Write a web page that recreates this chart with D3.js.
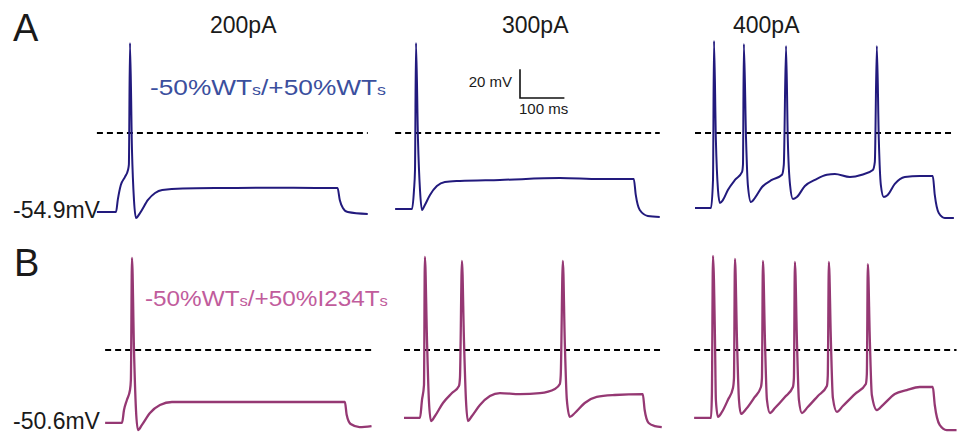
<!DOCTYPE html>
<html>
<head>
<meta charset="utf-8">
<script src="https://cdn.jsdelivr.net/npm/d3@7"></script>
<style>
  html, body { margin: 0; padding: 0; background: #fff; }
  svg { display: block; font-family: Arial, "Liberation Sans", sans-serif; }
</style>
</head>
<body>
<div id="chart"></div>
<script>
// step currents (column titles)
const currents = ["200pA", "300pA", "400pA"];
const rowLetters = ["A", "B"];
const restLabels = ["-54.9mV", "-50.6mV"];
const scaleBar = { mV: 20, ms: 100 };

// [time ms from step onset, membrane potential mV]
const traceA200 = [[-43,-54.9],[0,-54.9],[4,-46.5],[11,-36],[20,-30.6],[27,-25.7],[29,-22],[31.5,62.5],[36,-12],[40.5,-46.5],[45,-59],[54,-55.6],[72,-46.5],[88,-41.7],[104,-39.6],[150,-38.5],[250,-38.2],[350,-38],[450,-38.2],[499,-38.2],[504,-46.5],[511,-52],[522,-54.9],[567,-56.3]];
const traceA300 = [[-38,-52.8],[0,-52.8],[4.5,-39.6],[6.75,-25.7],[9,62.5],[13.5,-4.9],[18,-39.6],[22.5,-53.5],[29,-50],[40.5,-43],[56,-36.8],[74,-34],[108,-33.3],[198,-32.6],[333,-31.3],[423,-32],[499.5,-32],[504,-43],[513,-53.5],[531,-57.6],[558,-58.3]];
const traceA400 = [[-36,-52],[0,-52],[4.5,-32.6],[6.75,63.9],[11,-4.9],[15.75,-39.6],[20,-48.6],[27,-46.5],[38,-39.6],[54,-32.6],[70,-27],[72,-22],[74,61.8],[79,-4.9],[83,-36],[90,-48],[99,-45],[115,-37.5],[137,-32.6],[160,-29],[164,-22],[169,60.4],[173,-4.9],[178,-36],[184.5,-45.8],[193.5,-44.4],[211.5,-36.8],[234,-32.6],[261,-29],[279,-28.5],[313,-30.6],[340,-29],[364.5,-25.7],[369,-20],[373.5,60.4],[378,-4.9],[382.5,-36],[389,-44.4],[398,-43],[414,-35.4],[436.5,-30.6],[470,-29.9],[499.5,-29.9],[504,-43],[513,-55.6],[526.5,-59],[547,-59]];
const traceB200 = [[-38,-50.6],[0,-50.6],[4.5,-41.7],[11,-34.7],[18,-27.8],[20,-20.8],[22.5,63.9],[27,0],[31.5,-41.7],[36,-55.6],[45,-52],[63,-43.75],[85.5,-38.2],[112.5,-36.1],[288,-36.1],[400,-36.1],[502,-36.1],[506,-45],[515,-51.4],[535,-53.5],[562,-52.8]];
const traceB300 = [[-36,-47.2],[0,-47.2],[4.5,-34.7],[9,-24.3],[11,64.6],[15.75,7],[20,-34.7],[24.75,-49.3],[33.75,-45.8],[51.75,-36.8],[72,-29.9],[87.75,-25],[90,-19.4],[94.5,61.8],[99,7],[103.5,-34.7],[108,-49.3],[117,-45.8],[135,-38.2],[157.5,-32],[180,-29.9],[225,-30.6],[270,-29.9],[303.75,-27],[315,-23.6],[317,-17.4],[321.75,61.8],[326,7],[330.75,-34.7],[337.5,-46.5],[348.75,-43.75],[371,-36.8],[398,-32.6],[438.75,-31.25],[501.75,-30.6],[506,-41.7],[515,-50.7],[528.75,-52.8],[544.5,-53.5]];
const traceB400 = [[-38,-47.2],[0,-47.2],[2,-31.25],[4.5,65.3],[9,7],[11,-34.7],[15.75,-46.5],[24.75,-43],[38,-34.7],[49.5,-26.4],[51.75,-19.4],[54,63.2],[58.5,7],[63,-34.7],[67.5,-44.4],[79,-41],[97,-33.3],[112.5,-25.7],[114.75,-19.4],[117,61.8],[121.5,7],[126,-34.7],[132.75,-43.75],[144,-40.3],[166.5,-32.6],[184.5,-25.7],[186.75,-19.4],[189,61.1],[193.5,7],[198,-34.7],[204.75,-43.75],[218,-39.6],[240.75,-31.9],[261,-25],[263,-18],[265.5,61.1],[270,7],[274.5,-33.3],[283.5,-43],[297,-38.9],[324,-30.6],[348.75,-23.6],[351,-16.7],[353.25,59.7],[357.75,7],[362.25,-31.25],[373.5,-41.7],[387,-38.2],[414,-30.6],[441,-27.8],[470,-25.7],[499.5,-25.7],[504,-38.2],[515,-52],[531,-55.6],[553,-55.6]];

const width = 957, height = 435;
const pxPerMs = 0.444, pxPerMv = 1.44;
const rows = [
  { zeroY: 133, color: "#221a7d", textColor: "#3b4f9e",
    label: ["-50%WT", "s", "/+50%WT", "s"], labelX: 150, labelY: 95, labelW: 236 },
  { zeroY: 350, color: "#953873", textColor: "#c15c9c",
    label: ["-50%WT", "s", "/+50%I234T", "s"], labelX: 145, labelY: 306, labelW: 243 }
];
const panels = [
  { data: traceA200, row: 0, onsetX: 116 },
  { data: traceA300, row: 0, onsetX: 412 },
  { data: traceA400, row: 0, onsetX: 711 },
  { data: traceB200, row: 1, onsetX: 122 },
  { data: traceB300, row: 1, onsetX: 420 },
  { data: traceB400, row: 1, onsetX: 711 }
];

const svg = d3.select("#chart").append("svg")
  .attr("width", width).attr("height", height);

panels.forEach((p) => {
  const r = rows[p.row];
  const x = d3.scaleLinear().domain([0, 500]).range([p.onsetX, p.onsetX + 500 * pxPerMs]);
  const y = d3.scaleLinear().domain([0, -50]).range([r.zeroY, r.zeroY + 50 * pxPerMv]);
  p.x = x; p.y = y;

  // 0 mV reference
  const ext = d3.extent(p.data, (d) => d[0]);
  svg.append("line")
    .attr("x1", x(ext[0])).attr("x2", x(ext[1]))
    .attr("y1", y(0)).attr("y2", y(0))
    .attr("stroke", "#000").attr("stroke-width", 1.8)
    .attr("stroke-dasharray", "6,4");

  svg.append("path")
    .datum(p.data)
    .attr("fill", "none")
    .attr("stroke", r.color)
    .attr("stroke-width", p.row ? 2.3 : 2)
    .attr("stroke-linejoin", "round")
    .attr("d", d3.line().x((d) => x(d[0])).y((d) => y(d[1])).curve(d3.curveMonotoneX));
});

// column titles
const titleX = [210, 502, 733];
currents.forEach((c, i) => {
  svg.append("text").attr("x", titleX[i]).attr("y", 33)
    .attr("font-size", 23).attr("fill", "#1a1a1a").text(c);
});

// row letters and resting potentials
[[13, 41], [14, 276]].forEach((pos, i) => {
  svg.append("text").attr("x", pos[0]).attr("y", pos[1])
    .attr("font-size", 38).attr("fill", "#1a1a1a").text(rowLetters[i]);
});
[218, 429].forEach((yy, i) => {
  svg.append("text").attr("x", 13).attr("y", yy)
    .attr("font-size", 23).attr("fill", "#1a1a1a").text(restLabels[i]);
});

// condition labels, stretched horizontally as in the figure
rows.forEach((r) => {
  const t = svg.append("text").attr("font-size", 22).attr("fill", r.textColor);
  r.label.forEach((s, i) => {
    t.append("tspan").attr("font-size", i % 2 ? 15 : 22).text(s);
  });
  const w = t.node().getComputedTextLength();
  t.attr("transform", `translate(${r.labelX},${r.labelY}) scale(${r.labelW / w},1)`);
});

// scale bar, sized through the row A / 300pA scales
const sb = panels[1];
const sbX = 520, sbY = 98;
const barW = sb.x(scaleBar.ms) - sb.x(0);
const barH = sb.y(0) - sb.y(scaleBar.mV);
svg.append("path")
  .attr("d", `M${sbX},${sbY - barH}V${sbY}H${sbX + barW}`)
  .attr("fill", "none").attr("stroke", "#111").attr("stroke-width", 1.6);
svg.append("text").attr("x", sbX - 8).attr("y", 87).attr("text-anchor", "end")
  .attr("font-size", 15).attr("fill", "#1a1a1a").text(scaleBar.mV + " mV");
svg.append("text").attr("x", sbX - 1).attr("y", 114)
  .attr("font-size", 15).attr("fill", "#1a1a1a").text(scaleBar.ms + " ms");
</script>
</body>
</html>
